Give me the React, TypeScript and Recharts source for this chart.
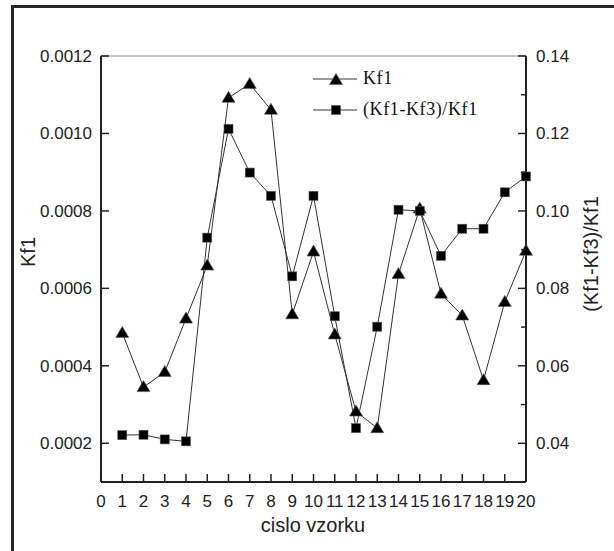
import React from 'react';
import { LineChart, Line, XAxis, YAxis, Legend, ReferenceLine } from 'recharts';

const sampleNo = [1, 2, 3, 4, 5, 6, 7, 8, 9, 10, 11, 12, 13, 14, 15, 16, 17, 18, 19, 20];
const kf1Values = [
  0.000485, 0.000345, 0.000384, 0.000522, 0.000659, 0.001092, 0.001128, 0.001061, 0.000533, 0.000695,
  0.000481, 0.000282, 0.000239, 0.000637, 0.000806, 0.000586, 0.00053, 0.000363, 0.000565, 0.000697,
];
const ratioValues = [
  0.0421, 0.0422, 0.041, 0.0405, 0.0931, 0.1212, 0.1099, 0.1039, 0.0831, 0.1039,
  0.0728, 0.0439, 0.0701, 0.1003, 0.1, 0.0884, 0.0954, 0.0954, 0.1048, 0.1089,
];
const xTicks = [0, 1, 2, 3, 4, 5, 6, 7, 8, 9, 10, 11, 12, 13, 14, 15, 16, 17, 18, 19, 20];
const kf1Ticks = [0.0002, 0.0004, 0.0006, 0.0008, 0.001, 0.0012];
const ratioTicks = [0.04, 0.05, 0.06, 0.07, 0.08, 0.09, 0.1, 0.11, 0.12, 0.13, 0.14];
const legendOrder = ['kf1', 'ratio'];

const rows = sampleNo.map((n, i) => ({ sample: n, kf1: kf1Values[i], ratio: ratioValues[i] }));

const sans = 'Liberation Sans, Arial, sans-serif';
const serif = 'Liberation Serif, Times New Roman, serif';
const ink = '#222';

const XTick = (props: any) => {
  const { x, y, payload } = props;
  return (
    <g>
      <line x1={x} y1={y} x2={x} y2={y - 8} stroke={ink} strokeWidth={1.5} />
      <text x={x} y={y + 25} textAnchor="middle" fontFamily={sans} fontSize={17} fill={ink}>
        {payload.value}
      </text>
    </g>
  );
};

const LeftTick = (props: any) => {
  const { x, y, payload } = props;
  return (
    <g>
      <line x1={x} y1={y} x2={x + 8} y2={y} stroke={ink} strokeWidth={1.5} />
      <text x={x - 9} y={y + 6} textAnchor="end" fontFamily={sans} fontSize={17} fill={ink}>
        {payload.value.toFixed(4)}
      </text>
    </g>
  );
};

const RightTick = (props: any) => {
  const { x, y, payload } = props;
  const major = Math.round(payload.value * 100) % 2 === 0;
  return (
    <g>
      <line x1={x} y1={y} x2={x - (major ? 8 : 5)} y2={y} stroke={ink} strokeWidth={1.5} />
      {major && (
        <text x={x + 10} y={y + 6} textAnchor="start" fontFamily={sans} fontSize={17} fill={ink}>
          {payload.value.toFixed(2)}
        </text>
      )}
    </g>
  );
};

const TriangleDot = (props: any) => {
  const { cx, cy } = props;
  if (cx == null || cy == null) return null;
  return (
    <polygon
      points={`${cx},${cy - 6.5} ${cx - 6.5},${cy + 4.5} ${cx + 6.5},${cy + 4.5}`}
      fill="#000"
      stroke="#555"
      strokeWidth={0.6}
    />
  );
};

const SquareDot = (props: any) => {
  const { cx, cy } = props;
  if (cx == null || cy == null) return null;
  return <rect x={cx - 4.5} y={cy - 4.5} width={9} height={9} fill="#000" stroke="#555" strokeWidth={0.6} />;
};

const renderLegend = (props: any) => {
  const entries = [...(props.payload || [])].sort(
    (a: any, b: any) => legendOrder.indexOf(a.dataKey) - legendOrder.indexOf(b.dataKey)
  );
  return (
    <div>
      {entries.map((entry: any) => (
        <div key={entry.value} style={{ display: 'flex', alignItems: 'center', height: 31 }}>
          <svg width={44} height={16}>
            <line x1={0} y1={8} x2={44} y2={8} stroke="#333" strokeWidth={1} />
            {entry.dataKey === 'kf1' ? <TriangleDot cx={23} cy={9} /> : <SquareDot cx={23} cy={8} />}
          </svg>
          <span style={{ marginLeft: 6, fontFamily: serif, fontSize: 18, letterSpacing: 0.6, color: '#111' }}>
            {entry.value}
          </span>
        </div>
      ))}
    </div>
  );
};

export default function App() {
  return (
    <div style={{ position: 'fixed', top: 0, left: 0, width: 614, height: 551, background: '#fff', overflow: 'hidden' }}>
      <div
        style={{
          position: 'absolute',
          left: 11,
          top: 5,
          width: 620,
          height: 560,
          borderTop: '3px solid #262626',
          borderLeft: '3px solid #262626',
        }}
      />
      <div style={{ position: 'absolute', left: 0, top: 0 }}>
        <LineChart width={614} height={551} data={rows} margin={{ top: 56, right: 30, bottom: 20, left: 40 }}>
          <XAxis
            dataKey="sample"
            type="number"
            domain={[0, 20]}
            ticks={xTicks}
            interval={0}
            tickSize={0}
            tickMargin={0}
            tickLine={false}
            tick={<XTick />}
            height={49}
            axisLine={{ stroke: ink, strokeWidth: 2 }}
          />
          <YAxis
            yAxisId="left"
            orientation="left"
            domain={[0.0001, 0.0012]}
            ticks={kf1Ticks}
            interval={0}
            width={61}
            tickSize={0}
            tickMargin={0}
            tickLine={false}
            tick={<LeftTick />}
            axisLine={{ stroke: ink, strokeWidth: 2 }}
          />
          <YAxis
            yAxisId="right"
            orientation="right"
            domain={[0.03, 0.14]}
            ticks={ratioTicks}
            interval={0}
            width={58}
            tickSize={0}
            tickMargin={0}
            tickLine={false}
            tick={<RightTick />}
            axisLine={{ stroke: ink, strokeWidth: 2 }}
          />
          <ReferenceLine yAxisId="left" y={0.0012} stroke="#8a8a8a" strokeWidth={1} />
          <Legend
            layout="vertical"
            align="center"
            verticalAlign="middle"
            content={renderLegend}
            wrapperStyle={{ left: 313, top: 63, width: 200 }}
          />
          <Line
            yAxisId="left"
            dataKey="kf1"
            name="Kf1"
            stroke="#333"
            strokeWidth={1}
            dot={<TriangleDot />}
            activeDot={false}
            isAnimationActive={false}
          />
          <Line
            yAxisId="right"
            dataKey="ratio"
            name="(Kf1-Kf3)/Kf1"
            stroke="#333"
            strokeWidth={1}
            dot={<SquareDot />}
            activeDot={false}
            isAnimationActive={false}
          />
        </LineChart>
      </div>
      <svg width={614} height={551} style={{ position: 'absolute', left: 0, top: 0, pointerEvents: 'none' }}>
        <text x={0} y={0} transform="translate(35,252) rotate(-90)" textAnchor="middle" fontFamily={sans} fontSize={20} fill={ink}>
          Kf1
        </text>
        <text x={0} y={0} transform="translate(598,254) rotate(-90)" textAnchor="middle" fontFamily={sans} fontSize={20} fill={ink}>
          (Kf1-Kf3)/Kf1
        </text>
        <text x={313} y={532} textAnchor="middle" fontFamily={sans} fontSize={20} fill={ink}>
          cislo vzorku
        </text>
      </svg>
    </div>
  );
}
